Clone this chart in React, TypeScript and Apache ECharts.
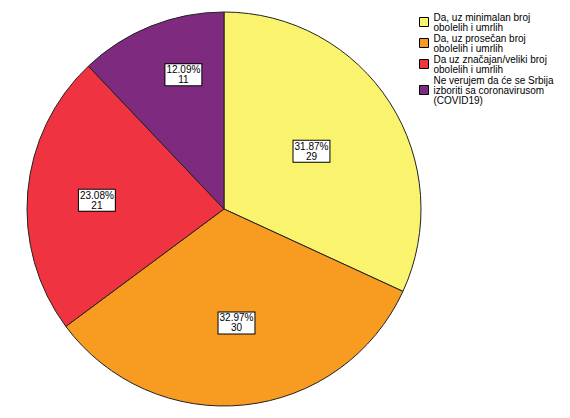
import React, { useEffect, useRef } from "react";
import * as echarts from "echarts";

const categories = [
  "Da, uz minimalan broj\nobolelih i umrlih",
  "Da, uz prosečan broj\nobolelih i umrlih",
  "Da uz značajan/veliki broj\nobolelih i umrlih",
  "Ne verujem da će se Srbija\nizboriti sa coronavirusom\n(COVID19)",
];
const counts = [29, 30, 21, 11];
const colors = ["#F9F36E", "#F89B21", "#EF3340", "#7D2A7F"];
const labelOffsets: [number, number][] = [
  [2, -3],
  [2, 13],
  [-26, 0],
  [-3, -40],
];

export default function App() {
  const ref = useRef<HTMLDivElement>(null);
  useEffect(() => {
    if (!ref.current) return;
    const chart = echarts.init(ref.current, undefined, { renderer: "svg" });
    const total = counts.reduce((a, b) => a + b, 0);
    chart.setOption({
      animation: false,
      backgroundColor: "#ffffff",
      textStyle: { fontFamily: "Arial, 'Liberation Sans', sans-serif" },
      legend: {
        orient: "vertical",
        left: 414,
        top: 7,
        itemWidth: 9,
        itemHeight: 9,
        itemGap: 1,
        itemTextGap: 3,
        icon: "rect",
        data: categories,
        itemStyle: { borderColor: "#000", borderWidth: 1 },
        textStyle: {
          fontSize: 10,
          lineHeight: 10,
          color: "#000",
          fontFamily: "Arial, 'Liberation Sans', sans-serif",
        },
      },
      series: [
        {
          type: "pie",
          center: [224, 209],
          radius: 197,
          startAngle: 90,
          clockwise: true,
          avoidLabelOverlap: false,
          itemStyle: { borderColor: "#222", borderWidth: 1 },
          label: {
            show: true,
            position: "inside",
            formatter: (p: any) =>
              ((p.value / total) * 100).toFixed(2) + "%\n" + p.value,
            fontSize: 10,
            lineHeight: 10,
            color: "#000",
            align: "center",
            backgroundColor: "#fff",
            borderColor: "#000",
            borderWidth: 1,
            padding: [1, 1, 0, 1],
            fontFamily: "Arial, 'Liberation Sans', sans-serif",
          },
          labelLine: { show: false },
          emphasis: { disabled: true },
          data: categories.map((name, i) => ({
            name,
            value: counts[i],
            itemStyle: { color: colors[i] },
            label: { offset: labelOffsets[i] },
          })),
        },
      ],
    });
    return () => chart.dispose();
  }, []);
  return (
    <div
      ref={ref}
      style={{ position: "fixed", left: 0, top: 0, width: 570, height: 418, background: "#fff" }}
    />
  );
}
